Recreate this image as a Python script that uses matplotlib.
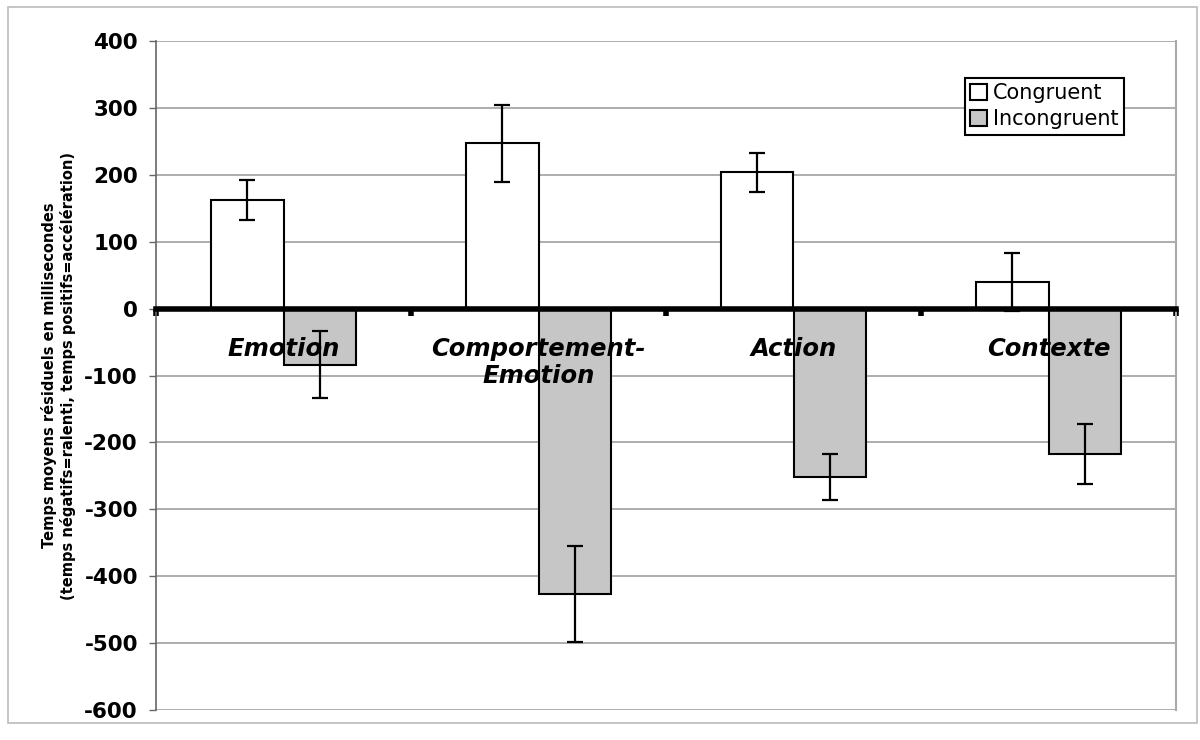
import numpy as np
import matplotlib
matplotlib.use("Agg")
from matplotlib import pyplot as plt
from matplotlib.patches import Rectangle
from matplotlib.transforms import offset_copy

# data
categories = ["Emotion", "Comportement-\nEmotion", "Action", "Contexte"]
congruent = [162, 247, 204, 40]
congruent_err = [30, 58, 29, 43]
incongruent = [-84, -427, -252, -217]
incongruent_err = [50, 72, 34, 45]
yticks = [400, 300, 200, 100, 0, -100, -200, -300, -400, -500, -600]

plt.rcParams['font.family'] = ['DejaVu Sans']

fig = plt.figure(figsize=(12, 7.4), dpi=100)
ax = fig.add_axes([0.13, 0.0405, 0.85, 0.904])

x = np.arange(len(categories))
w = 1 / 3.5
ekw = dict(elinewidth=1.6, capthick=1.6, ecolor='black')
ax.bar(x - w / 2, congruent, w, color='white', edgecolor='black', linewidth=1.5,
       yerr=congruent_err, capsize=6, error_kw=ekw, label='Congruent', zorder=3)
ax.bar(x + w / 2, incongruent, w, color='#c6c6c6', edgecolor='black', linewidth=1.5,
       yerr=incongruent_err, capsize=6, error_kw=ekw, label='Incongruent', zorder=3)

ax.set_xlim(-0.5, len(categories) - 0.5)
ax.set_ylim(-600, 400)
ax.set_yticks(yticks)
ax.set_yticklabels([str(t) for t in yticks], fontsize=15.5, fontweight='bold')
ax.yaxis.grid(True, color='#a0a0a0', linewidth=1.2, zorder=0)
ax.set_axisbelow(True)

# zero axis with category boundary ticks
ax.spines['bottom'].set_position(('data', 0))
ax.spines['bottom'].set_linewidth(4)
ax.spines['bottom'].set_zorder(5)
ax.set_xticks(np.arange(len(categories) + 1) - 0.5)
ax.set_xticklabels([])
ax.tick_params(axis='x', which='major', direction='out', length=5, width=4)
ax.tick_params(axis='y', direction='out', length=5, width=1, color='#666666', pad=8)

# category names sit on top of the bars
lab_tr = offset_copy(ax.transData, fig=fig, x=0, y=-28, units='dots')
for xi, name in zip(x, categories):
    ax.text(xi, 0, name, transform=lab_tr, ha='center', va='top',
            fontsize=17.5, fontweight='bold', fontstyle='italic',
            linespacing=1.15, zorder=10)

ax.spines['top'].set_visible(False)
ax.spines['left'].set_color('#666666')
ax.spines['left'].set_linewidth(1.2)
ax.spines['right'].set_color('#aaaaaa')
ax.spines['right'].set_linewidth(1.5)

ax.set_ylabel("Temps moyens résiduels en millisecondes\n"
              "(temps négatifs=ralenti, temps positifs=accélération)",
              fontsize=10.5, fontweight='bold', labelpad=6)

leg = ax.legend(loc='upper right', bbox_to_anchor=(0.949, 0.945), fontsize=15,
                frameon=True, fancybox=False, framealpha=1, edgecolor='black',
                handlelength=0.8, handleheight=0.8, handletextpad=0.3,
                borderpad=0.25, labelspacing=0.3, borderaxespad=0)
leg.get_frame().set_linewidth(1.5)

fig.patches.append(Rectangle((8 / 1200, 17 / 740), 1189 / 1200, 716 / 740,
                             transform=fig.transFigure, fill=False,
                             edgecolor='#bbbbbb', linewidth=1.2))

fig.savefig('out.png', dpi=100)
